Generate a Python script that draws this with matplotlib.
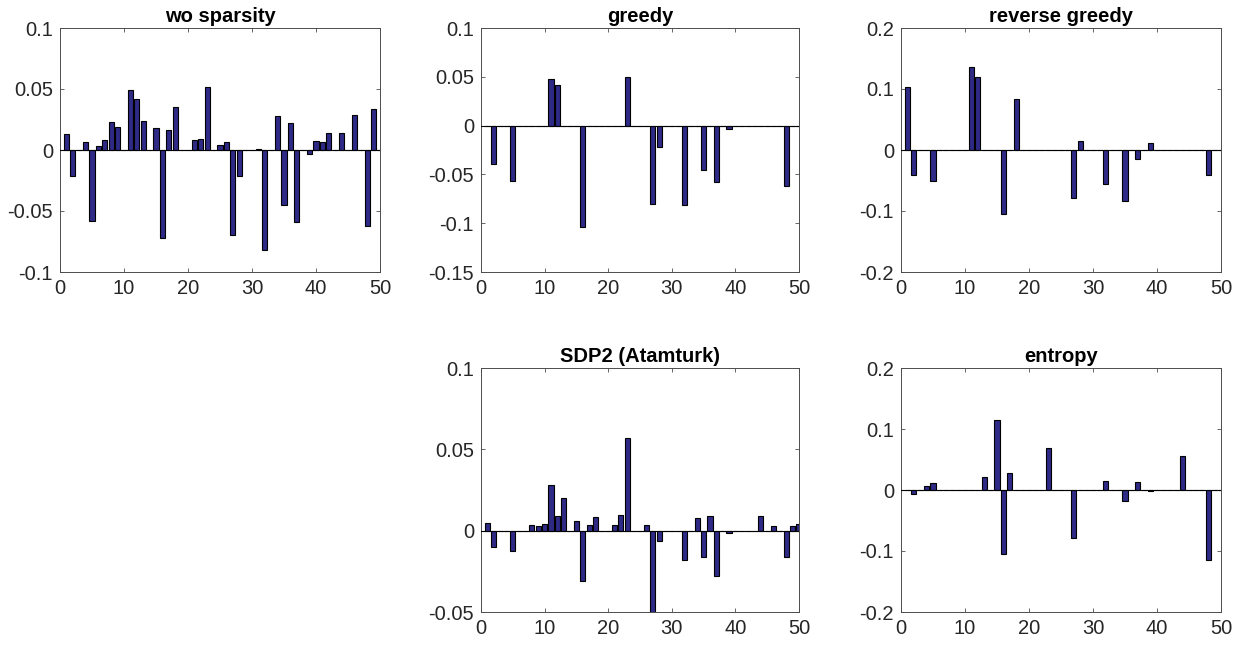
import numpy as np
import matplotlib.pyplot as plt

plt.rcParams["font.family"] = ["Liberation Sans", "DejaVu Sans"]

N = 50
idx = np.arange(1, N + 1)

# nonzero entries: index -> value
wo_sparsity = {
    1: 0.013, 2: -0.021, 4: 0.0063, 5: -0.058, 6: 0.003, 7: 0.008, 8: 0.023,
    9: 0.019, 11: 0.0488, 12: 0.042, 13: 0.024, 15: 0.018, 16: -0.072,
    17: 0.016, 18: 0.035, 21: 0.008, 22: 0.009, 23: 0.0515, 25: 0.004,
    26: 0.0063, 27: -0.070, 28: -0.021, 31: 0.001, 32: -0.082, 34: 0.0277,
    35: -0.045, 36: 0.022, 37: -0.059, 39: -0.0036, 40: 0.0074, 41: 0.0066,
    42: 0.0137, 44: 0.0137, 46: 0.0285, 48: -0.0627, 49: 0.0334,
}
greedy = {
    2: -0.0398, 5: -0.057, 11: 0.048, 12: 0.042, 16: -0.104, 23: 0.050,
    27: -0.080, 28: -0.0218, 32: -0.081, 35: -0.045, 37: -0.058,
    39: -0.0037, 48: -0.062,
}
reverse_greedy = {
    1: 0.103, 2: -0.0405, 5: -0.050, 11: 0.136, 12: 0.119, 16: -0.105,
    18: 0.083, 27: -0.079, 28: 0.0148, 32: -0.055, 35: -0.083,
    37: -0.0148, 39: 0.011, 48: -0.0405,
}
sdp2 = {
    1: 0.0049, 2: -0.0098, 5: -0.0125, 8: 0.0035, 9: 0.0027, 10: 0.0041,
    11: 0.0282, 12: 0.0088, 13: 0.0198, 15: 0.0061, 16: -0.0309,
    17: 0.0035, 18: 0.0082, 21: 0.0035, 22: 0.0098, 23: 0.057, 26: 0.0035,
    27: -0.052, 28: -0.0061, 32: -0.018, 34: 0.0076, 35: -0.016,
    36: 0.0088, 37: -0.028, 39: -0.0014, 44: 0.0088, 46: 0.0027,
    48: -0.016, 49: 0.0027, 50: 0.0043,
}
entropy = {
    2: -0.0071, 4: 0.006, 5: 0.011, 13: 0.0208, 15: 0.1145, 16: -0.105,
    17: 0.0274, 23: 0.0685, 27: -0.0795, 32: 0.0148, 35: -0.0186,
    37: 0.0131, 39: -0.002, 44: 0.0553, 48: -0.114,
}


def to_vec(d):
    v = np.zeros(N)
    for k, val in d.items():
        v[k - 1] = val
    return v


panels = [
    ("wo sparsity", wo_sparsity, (-0.1, 0.1), [-0.1, -0.05, 0, 0.05, 0.1],
     ["-0.1", "-0.05", "0", "0.05", "0.1"], [60, 28, 320, 244]),
    ("greedy", greedy, (-0.15, 0.1), [-0.15, -0.1, -0.05, 0, 0.05, 0.1],
     ["-0.15", "-0.1", "-0.05", "0", "0.05", "0.1"], [481, 28, 318, 244]),
    ("reverse greedy", reverse_greedy, (-0.2, 0.2), [-0.2, -0.1, 0, 0.1, 0.2],
     ["-0.2", "-0.1", "0", "0.1", "0.2"], [901, 28, 320, 244]),
    ("SDP2 (Atamturk)", sdp2, (-0.05, 0.1), [-0.05, 0, 0.05, 0.1],
     ["-0.05", "0", "0.05", "0.1"], [481, 368, 318, 244]),
    ("entropy", entropy, (-0.2, 0.2), [-0.2, -0.1, 0, 0.1, 0.2],
     ["-0.2", "-0.1", "0", "0.1", "0.2"], [901, 368, 320, 244]),
]

W, H = 1244, 645
fig = plt.figure(figsize=(W / 100, H / 100), dpi=100)

for title, data, ylim, yt, ytl, (px, py, pw, ph) in panels:
    ax = fig.add_axes([px / W, 1 - (py + ph) / H, pw / W, ph / H])
    vals = to_vec(data)
    ax.bar(idx, vals, width=0.8, color="#2e2a86", edgecolor="black",
           linewidth=0.8, zorder=2)
    ax.axhline(0, color="black", linewidth=0.8, zorder=3)
    ax.set_xlim(0, 50)
    ax.set_ylim(*ylim)
    ax.set_xticks([0, 10, 20, 30, 40, 50])
    ax.set_yticks(yt)
    ax.set_yticklabels(ytl)
    ax.tick_params(direction="in", top=True, right=True, labelsize=14.5,
                   colors="#4d4d4d", labelcolor="#262626", length=3,
                   width=0.6, pad=5)
    for s in ax.spines.values():
        s.set_color("#4d4d4d")
        s.set_linewidth(0.7)
    ax.set_title(title, fontsize=14.5, fontweight="bold", pad=4)

fig.savefig("out.png", dpi=100)
